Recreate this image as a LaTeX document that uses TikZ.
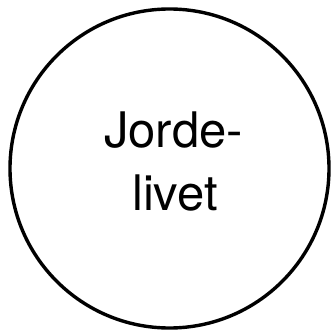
\documentclass[tikz,border=0pt]{standalone}
\usepackage{fontspec}
\setmainfont{TeX Gyre Heros}
\usetikzlibrary{positioning}

\tikzset{
  lifering/.style={draw=black,line width=3.4pt,circle,minimum size=319pt,inner sep=0pt},
  lifetext/.style={font=\fontsize{49}{60}\selectfont,inner sep=0pt,anchor=base}
}

\begin{document}
\begin{tikzpicture}[x=1pt,y=-1pt]
  \useasboundingbox (0,0) rectangle (331,331);
  \node[lifering] (life) at (169.5,168.5) {};
  \node[lifetext] (jorde) at (173.5,147) {Jorde-};
  \node[lifetext] (livet) at (175,210) {livet};
\end{tikzpicture}
\end{document}
